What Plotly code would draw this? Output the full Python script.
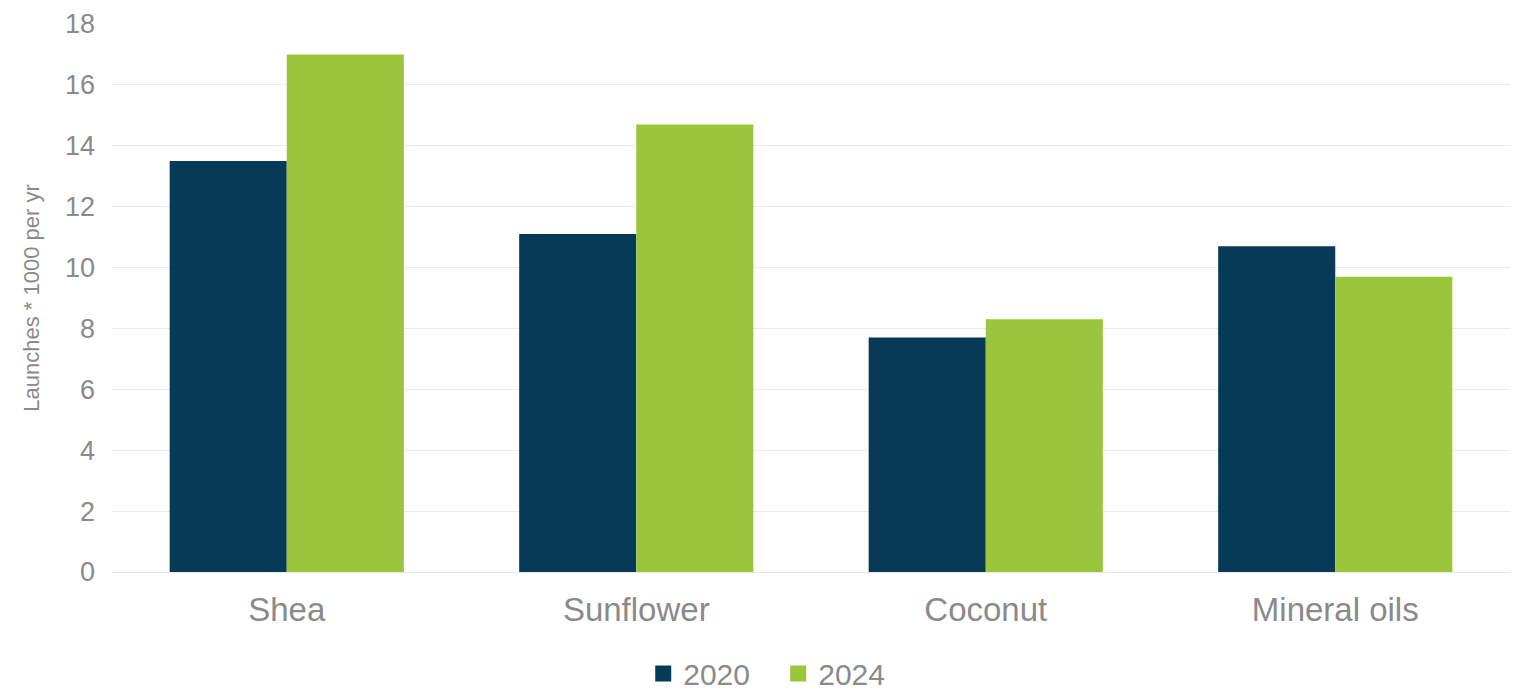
import plotly.graph_objects as go

categories = ["Shea", "Sunflower", "Coconut", "Mineral oils"]
values_2020 = [13.5, 11.1, 7.7, 10.7]
values_2024 = [17.0, 14.7, 8.3, 9.7]
y_ticks = [0, 2, 4, 6, 8, 10, 12, 14, 16, 18]

series = [("2020", values_2020, "#073a57"), ("2024", values_2024, "#9bc63b")]

font_family = "Liberation Sans, Arial, sans-serif"
grey = "#8a8a8a"

fig = go.Figure()
for name, vals, color in series:
    fig.add_trace(go.Bar(name=name, x=categories, y=vals, showlegend=False,
                         marker=dict(color=color, line=dict(width=0))))
# square legend keys
for name, vals, color in series:
    fig.add_trace(go.Scatter(name=name, x=[None], y=[None], mode="markers",
                             marker=dict(symbol="square", size=17, color=color)))

fig.update_layout(
    width=1537, height=692,
    margin=dict(l=112, r=27, t=24, b=120, autoexpand=False),
    paper_bgcolor="white", plot_bgcolor="white",
    barmode="group", bargap=0.33, bargroupgap=0,
    font=dict(family=font_family, color=grey, size=22),
    legend=dict(orientation="h", x=0.38, xanchor="left", y=-0.138, yanchor="top",
                font=dict(size=30, color=grey), itemwidth=30, traceorder="normal",
                entrywidthmode="pixels", entrywidth=90, bgcolor="rgba(0,0,0,0)"),
    xaxis=dict(showgrid=False, showline=True, linecolor="#e6e6e6", linewidth=1,
               ticks="", tickfont=dict(size=33, color=grey), ticklabelstandoff=8),
    yaxis=dict(range=[0, 18], tickvals=y_ticks, showgrid=True, gridcolor="#ebebeb",
               gridwidth=1, zeroline=False, ticks="", tickfont=dict(size=27, color=grey),
               ticklabelstandoff=16,
               title=dict(text="Launches * 1000 per yr", font=dict(size=22, color=grey),
                          standoff=19)),
)

fig.write_html("out.html")
